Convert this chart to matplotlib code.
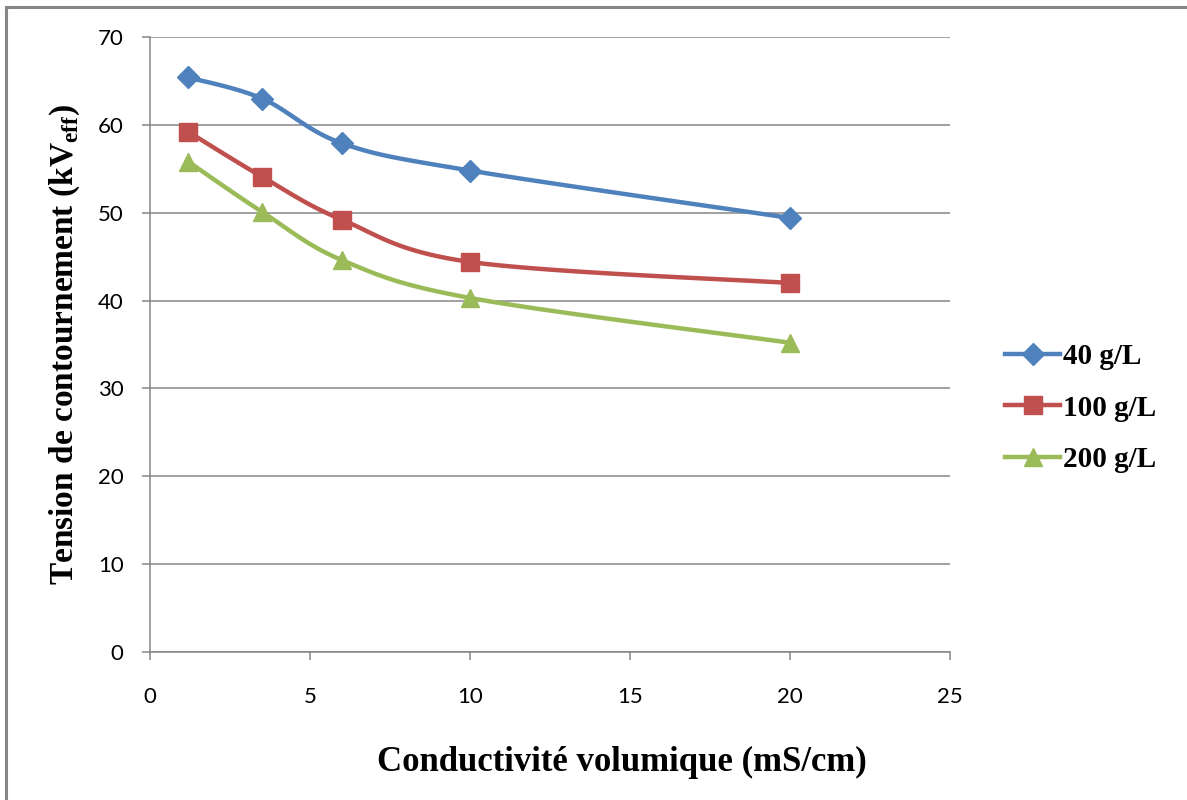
import numpy as np
import matplotlib.pyplot as plt
from matplotlib.lines import Line2D

plt.rcParams["mathtext.fontset"] = "custom"
plt.rcParams["mathtext.bf"] = "Liberation Serif:bold"
plt.rcParams["mathtext.rm"] = "Liberation Serif"

conductivity = [1.2, 3.5, 6, 10, 20]
v_40 = [65.4, 63.0, 57.9, 54.8, 49.4]
v_100 = [59.2, 54.1, 49.2, 44.4, 42.0]
v_200 = [55.8, 50.1, 44.6, 40.3, 35.2]

labels = ["40 g/L", "100 g/L", "200 g/L"]
colors = ["#4F81BD", "#C0504D", "#9BBB59"]
markers = ["D", "s", "^"]
msizes = [11, 13, 13]


def smooth(x, y, n=30):
    # Excel-like smoothed line: Catmull-Rom bezier through the points
    x = np.asarray(x, float)
    y = np.asarray(y, float)
    px = np.concatenate([[x[0]], x, [x[-1]]])
    py = np.concatenate([[y[0]], y, [y[-1]]])
    xs, ys = [], []
    t = np.linspace(0, 1, n)
    for i in range(1, len(px) - 2):
        p0 = np.array([px[i], py[i]])
        p3 = np.array([px[i + 1], py[i + 1]])
        c1 = p0 + (np.array([px[i + 1], py[i + 1]]) - np.array([px[i - 1], py[i - 1]])) / 6
        c2 = p3 - (np.array([px[i + 2], py[i + 2]]) - np.array([px[i], py[i]])) / 6
        b = ((1 - t) ** 3)[:, None] * p0 + (3 * (1 - t) ** 2 * t)[:, None] * c1 \
            + (3 * (1 - t) * t ** 2)[:, None] * c2 + (t ** 3)[:, None] * p3
        xs.extend(b[:, 0])
        ys.extend(b[:, 1])
    return xs, ys


fig = plt.figure(figsize=(11.87, 8), dpi=100)
ax = fig.add_axes([150 / 1187, 148 / 800, 800 / 1187, 615 / 800])

for vals, lab, col, mk, ms in zip([v_40, v_100, v_200], labels, colors, markers, msizes):
    sx, sy = smooth(conductivity, vals)
    ax.plot(sx, sy, color=col, lw=3.2, solid_capstyle="round", zorder=3)
    ax.plot(conductivity, vals, linestyle="none", marker=mk, markersize=ms,
            color=col, zorder=4)

ax.set_xlim(0, 25)
ax.set_ylim(0, 70)
ax.set_xticks(range(0, 26, 5))
ax.set_yticks(range(0, 71, 10))
ax.grid(axis="y", color="#868686", lw=1.1)
ax.set_axisbelow(True)
for s in ["top", "right"]:
    ax.spines[s].set_visible(False)
for s in ["left", "bottom"]:
    ax.spines[s].set_color("#868686")
    ax.spines[s].set_linewidth(1.1)
ax.tick_params(axis="both", direction="out", length=6, width=1.1, color="#868686",
               labelsize=16, pad=13)
ax.tick_params(axis="x", pad=19)
for t in ax.get_xticklabels() + ax.get_yticklabels():
    t.set_fontfamily("Lato")

ax.set_xlabel("Conductivité volumique (mS/cm)", fontfamily="Liberation Serif",
              fontweight="bold", fontsize=25)
ax.xaxis.set_label_coords(0.59, -0.152)
ax.set_ylabel(r"Tension de contournement (kV$_{\mathbf{eff}}$)", fontfamily="Liberation Serif",
              fontweight="bold", fontsize=24)
ax.yaxis.set_label_coords(-0.085, 0.5)

handles = [Line2D([], [], color=c, lw=3.2, marker=m, markersize=ms)
           for c, m, ms in zip(colors, markers, [11, 13, 13])]
fig.legend(handles, labels, loc="center left", bbox_to_anchor=(1005 / 1187, 1 - 408 / 800),
           frameon=False, prop={"family": "Liberation Serif", "weight": "bold", "size": 21},
           handlelength=1.9, handletextpad=0.1, labelspacing=0.85,
           borderpad=0, borderaxespad=0)

# chart frame (top and left edges visible)
fig.add_artist(Line2D([6 / 1187, 6 / 1187], [0, 1 - 7 / 800], color="#868686", lw=2.2))
fig.add_artist(Line2D([6 / 1187, 1], [1 - 7 / 800, 1 - 7 / 800], color="#868686", lw=2.2))

fig.savefig("out.png", dpi=100)
